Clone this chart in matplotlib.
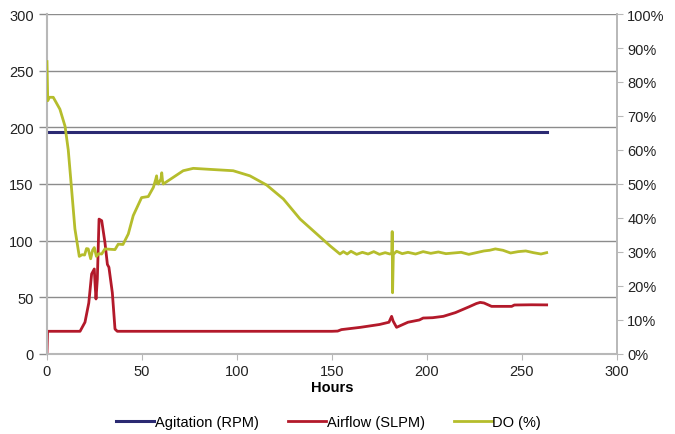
import matplotlib.pyplot as plt
from matplotlib.ticker import FuncFormatter

plt.rcParams['font.family'] = ['Liberation Sans', 'DejaVu Sans']

# data
agit_hours = [0, 263]
agit_rpm = [196, 196]

air_hours = [0, 0.3, 5, 17.4, 20, 22, 23.5, 24.9, 25.3, 25.8, 26.5, 27.4, 28.8,
             30.5, 31.8, 32.6, 34.4, 35.8, 37, 60, 100, 150, 153, 155, 165,
             175, 180, 181.4, 182.2, 184, 190, 196, 198, 203, 208.6, 215, 222,
             226, 228, 230, 234, 244.6, 246, 255, 263]
air_slpm = [0, 20, 20, 20, 28, 45, 70.6, 75, 62, 48.5, 66, 119, 117.6,
            98.5, 79, 76.5, 54, 22, 20, 20, 20, 20, 20.2, 21.5, 23.5,
            26, 28, 33.2, 29, 23.5, 28, 30, 31.7, 32, 33.2, 36.5, 41.5,
            44.5, 45.5, 45, 42, 42, 43.2, 43.4, 43.3]

do_hours = [0, 0.4, 1.2, 3.3, 6.8, 9.5, 11.2, 12.5, 14.7, 17, 18.5, 19.8, 20.8,
            21.7, 23, 24, 24.9, 26, 27.2, 28.8, 30.5, 33, 35.8, 37.5, 40,
            42.8, 45.4, 49.8, 53.3, 56, 57.3, 57.7, 58.1, 58.6, 60, 60.4, 60.8,
            61.2, 64.7, 71.7, 77, 85.8, 98, 106.8, 115.6, 124.4, 133.2, 142,
            149, 154.2, 156, 158, 160, 163, 166, 169, 172, 175, 178, 180.5,
            181.5, 181.7, 181.9, 182.3, 184, 187, 190, 194, 198, 202, 206, 210,
            214, 218, 222, 226, 230, 233, 236, 240, 244, 248, 252, 256, 260, 263]
do_pct = [86, 74.5, 75.5, 75.5, 72, 67, 60, 51.5, 36.8, 28.7, 29.2, 29.1, 31,
          30.9, 28, 30.5, 31.3, 28.7, 29.5, 29.4, 30.9, 30.8, 30.7, 32.3, 32.2,
          35.3, 40.7, 46, 46.3, 49, 51.5, 52.4, 50.2, 50, 51.5, 53.3, 51, 50,
          51.3, 53.9, 54.6, 54.3, 53.9, 52.4, 49.7, 45.6, 39.7, 35.3,
          31.8, 29.4, 30.1, 29.4, 30.2, 29.3, 29.9, 29.4, 30.1, 29.3, 29.8, 29.4,
          29.6, 36, 18, 29.3, 30.2, 29.5, 29.9, 29.4, 30.1, 29.6, 30.0, 29.5,
          29.7, 29.9, 29.3, 29.8, 30.3, 30.5, 30.9, 30.5, 29.7, 30.1, 30.3, 29.8,
          29.4, 29.8]

x_ticks = [0, 50, 100, 150, 200, 250, 300]
left_ticks = [0, 50, 100, 150, 200, 250, 300]
right_ticks = [0, 10, 20, 30, 40, 50, 60, 70, 80, 90, 100]

navy = '#2b2a72'
red = '#b3192a'
green = '#b5bd2c'
spine_col = '#b8b8b8'

fig = plt.figure(figsize=(6.75, 4.35), dpi=100)
ax = fig.add_axes([0.0696, 0.184, 0.8444, 0.7815])
ax2 = ax.twinx()

l1, = ax.plot(agit_hours, agit_rpm, color=navy, lw=2.2, label='Agitation (RPM)')
l2, = ax.plot(air_hours, air_slpm, color=red, lw=2, label='Airflow (SLPM)')
l3, = ax2.plot(do_hours, do_pct, color=green, lw=2, label='DO (%)')

ax.set_xlim(0, 300)
ax.set_ylim(0, 300)
ax2.set_ylim(0, 100)
ax.set_xticks(x_ticks)
ax.set_yticks(left_ticks)
ax2.set_yticks(right_ticks)
ax2.yaxis.set_major_formatter(FuncFormatter(lambda v, p: '%d%%' % v))

ax.grid(axis='y', color='#8c8c8c', lw=1)
ax.set_axisbelow(True)

for a in (ax, ax2):
    a.spines['top'].set_visible(False)
    a.spines['left'].set_color(spine_col)
    a.spines['bottom'].set_color(spine_col)
    a.spines['right'].set_color(spine_col)
    a.spines['left'].set_linewidth(1.5)
    a.spines['bottom'].set_linewidth(1.5)
    a.spines['right'].set_linewidth(1.2)
    a.tick_params(colors=spine_col, labelcolor='#222222', labelsize=10.5, length=4)
ax.tick_params(axis='y', length=6, width=1, colors='#8c8c8c', labelcolor='#222222')
ax2.spines['left'].set_visible(False)
ax2.spines['bottom'].set_visible(False)

ax.set_xlabel('Hours', fontweight='bold', fontsize=10.5, labelpad=1)

fig.legend(handles=[l1, l2, l3], loc='center', bbox_to_anchor=(0.487, 0.028),
           ncol=3, frameon=False, fontsize=10.5, handlelength=2.6,
           handletextpad=0.05, columnspacing=2.0)

fig.savefig('out.png', dpi=100)
